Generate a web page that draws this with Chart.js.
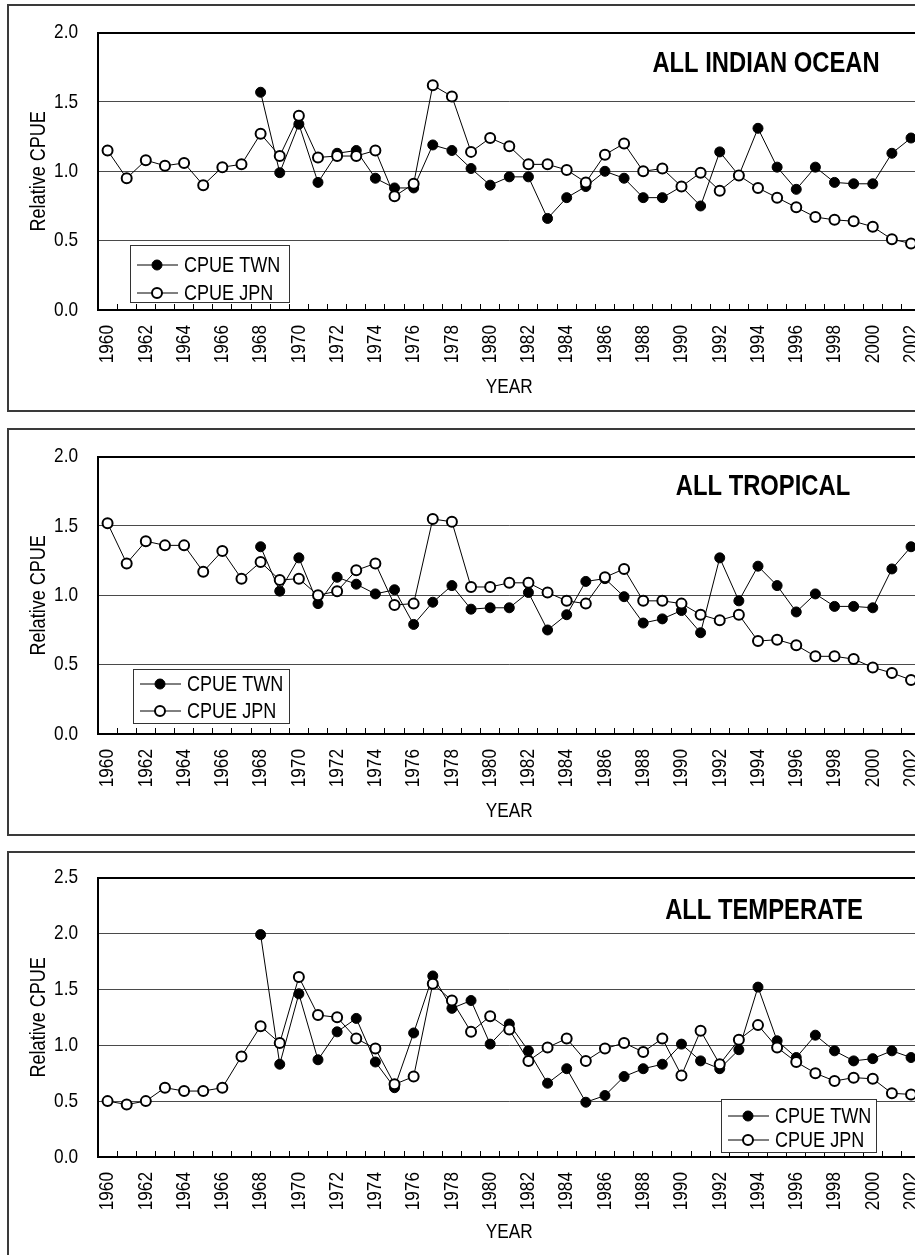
<!DOCTYPE html>
<html>
<head>
<meta charset="utf-8">
<title>Relative CPUE</title>
<script src="https://cdn.jsdelivr.net/npm/chart.js@4.4.1/dist/chart.umd.min.js"></script>
<style>
html, body { margin: 0; padding: 0; background: #fff; overflow: hidden; }
body { width: 915px; height: 1255px; position: relative; }
.frame { position: absolute; left: 7px; width: 960px; border: 2px solid #3a3a3a; box-sizing: border-box; }
canvas { position: absolute; left: 0; }
</style>
</head>
<body>
<div class="frame" style="top:4px;height:408px"></div>
<div class="frame" style="top:428px;height:408px"></div>
<div class="frame" style="top:851px;height:420px"></div>
<canvas id="c1" width="930" height="412" style="top:0px"></canvas>
<canvas id="c2" width="930" height="412" style="top:424px"></canvas>
<canvas id="c3" width="930" height="410" style="top:845px"></canvas>
<script>
// DATOS
const years = [1960, 1961, 1962, 1963, 1964, 1965, 1966, 1967, 1968, 1969,
  1970, 1971, 1972, 1973, 1974, 1975, 1976, 1977, 1978, 1979,
  1980, 1981, 1982, 1983, 1984, 1985, 1986, 1987, 1988, 1989,
  1990, 1991, 1992, 1993, 1994, 1995, 1996, 1997, 1998, 1999,
  2000, 2001, 2002];

const yTicksIndian = [0.0, 0.5, 1.0, 1.5, 2.0];
const yTicksTemperate = [0.0, 0.5, 1.0, 1.5, 2.0, 2.5];

// ALL INDIAN OCEAN
const twnIndian = [null, null, null, null, null, null, null, null,
  1.57, 0.99, 1.34, 0.92, 1.13, 1.15, 0.95, 0.88, 0.88, 1.19,
  1.15, 1.02, 0.90, 0.96, 0.96, 0.66, 0.81, 0.89, 1.00, 0.95,
  0.81, 0.81, 0.89, 0.75, 1.14, 0.97, 1.31, 1.03, 0.87, 1.03,
  0.92, 0.91, 0.91, 1.13, 1.24];
const jpnIndian = [1.15, 0.95, 1.08, 1.04, 1.06, 0.90, 1.03, 1.05, 1.27, 1.11,
  1.40, 1.10, 1.11, 1.11, 1.15, 0.82, 0.91, 1.62, 1.54, 1.14,
  1.24, 1.18, 1.05, 1.05, 1.01, 0.92, 1.12, 1.20, 1.00, 1.02,
  0.89, 0.99, 0.86, 0.97, 0.88, 0.81, 0.74, 0.67, 0.65, 0.64,
  0.60, 0.51, 0.48];

// ALL TROPICAL
const twnTropical = [null, null, null, null, null, null, null, null,
  1.35, 1.03, 1.27, 0.94, 1.13, 1.08, 1.01, 1.04, 0.79, 0.95,
  1.07, 0.90, 0.91, 0.91, 1.02, 0.75, 0.86, 1.10, 1.12, 0.99,
  0.80, 0.83, 0.89, 0.73, 1.27, 0.96, 1.21, 1.07, 0.88, 1.01,
  0.92, 0.92, 0.91, 1.19, 1.35];
const jpnTropical = [1.52, 1.23, 1.39, 1.36, 1.36, 1.17, 1.32, 1.12, 1.24, 1.11,
  1.12, 1.00, 1.03, 1.18, 1.23, 0.93, 0.94, 1.55, 1.53, 1.06,
  1.06, 1.09, 1.09, 1.02, 0.96, 0.94, 1.13, 1.19, 0.96, 0.96,
  0.94, 0.86, 0.82, 0.86, 0.67, 0.68, 0.64, 0.56, 0.56, 0.54,
  0.48, 0.44, 0.39];

// ALL TEMPERATE
const twnTemperate = [null, null, null, null, null, null, null, null,
  1.99, 0.83, 1.46, 0.87, 1.12, 1.24, 0.85, 0.62, 1.11, 1.62,
  1.33, 1.40, 1.01, 1.19, 0.95, 0.66, 0.79, 0.49, 0.55, 0.72,
  0.79, 0.83, 1.01, 0.86, 0.79, 0.96, 1.52, 1.04, 0.89, 1.09,
  0.95, 0.86, 0.88, 0.95, 0.89];
const jpnTemperate = [0.50, 0.47, 0.50, 0.62, 0.59, 0.59, 0.62, 0.90, 1.17, 1.02,
  1.61, 1.27, 1.25, 1.06, 0.97, 0.65, 0.72, 1.55, 1.40, 1.12,
  1.26, 1.14, 0.86, 0.98, 1.06, 0.86, 0.97, 1.02, 0.94, 1.06,
  0.73, 1.13, 0.83, 1.05, 1.18, 0.98, 0.85, 0.75, 0.68, 0.71,
  0.70, 0.57, 0.56];

const fam = "'Liberation Sans', Arial, sans-serif";
Chart.defaults.font.family = fam;
Chart.defaults.font.size = 21;
Chart.defaults.color = '#000';

// No hay Arial Narrow instalada: se comprime el texto en horizontal para imitarla
function narrowContext(id) {
  const ctx = document.getElementById(id).getContext('2d');
  const fill = ctx.fillText;
  ctx.fillText = function (text, x, y, maxWidth) {
    const w = this.measureText(text).width * 0.82;
    return fill.call(this, text, x, y, maxWidth === undefined ? w : Math.min(w, maxWidth));
  };
  return ctx;
}

// Titulo y leyenda dentro del area del grafico
const panelDecor = {
  id: 'panelDecor',
  afterDraw(chart, args, opts) {
    const ctx = chart.ctx;
    const ca = chart.chartArea;
    ctx.save();

    // titulo
    ctx.font = 'bold 29px ' + fam;
    ctx.fillStyle = '#000';
    ctx.textAlign = 'center';
    ctx.textBaseline = 'middle';
    ctx.fillText(opts.title, opts.titleX, ca.top + opts.titleDy);

    // leyenda
    const bx = ca.left + opts.box.dx;
    const by = ca.bottom - opts.box.dy;
    ctx.fillStyle = '#fff';
    ctx.fillRect(bx, by, opts.box.w, opts.box.h);
    ctx.strokeStyle = '#333';
    ctx.lineWidth = 1;
    ctx.strokeRect(bx + 0.5, by + 0.5, opts.box.w, opts.box.h);

    ctx.font = '22px ' + fam;
    ctx.textAlign = 'left';
    chart.data.datasets.forEach((ds, i) => {
      const ry = by + opts.box.rows[i];
      ctx.strokeStyle = '#000';
      ctx.lineWidth = 1;
      ctx.beginPath();
      ctx.moveTo(bx + 7, ry);
      ctx.lineTo(bx + 48, ry);
      ctx.stroke();
      ctx.beginPath();
      ctx.arc(bx + 27, ry, ds.pointRadius, 0, Math.PI * 2);
      ctx.fillStyle = ds.pointBackgroundColor;
      ctx.fill();
      ctx.lineWidth = ds.pointBorderWidth;
      ctx.strokeStyle = ds.pointBorderColor;
      ctx.stroke();
      ctx.fillStyle = '#000';
      ctx.fillText(ds.label, bx + 54, ry + 1);
    });
    ctx.restore();
  }
};

function makeChart(id, twn, jpn, yTicks, o) {
  const yMax = yTicks[yTicks.length - 1];
  return new Chart(narrowContext(id), {
    type: 'line',
    data: {
      labels: years,
      datasets: [{
        label: 'CPUE TWN',
        data: twn,
        borderColor: '#000',
        borderWidth: 1,
        pointRadius: 5,
        pointBackgroundColor: '#000',
        pointBorderColor: '#000',
        pointBorderWidth: 1,
        order: 1
      }, {
        label: 'CPUE JPN',
        data: jpn,
        borderColor: '#000',
        borderWidth: 1,
        pointRadius: 5,
        pointBackgroundColor: '#fff',
        pointBorderColor: '#000',
        pointBorderWidth: 2,
        order: 0
      }]
    },
    options: {
      responsive: false,
      animation: false,
      layout: { padding: { top: o.padTop, right: 9.4, left: 0, bottom: 0 } },
      plugins: {
        legend: { display: false },
        tooltip: { enabled: false },
        panelDecor: o.decor
      },
      scales: {
        x: {
          offset: true,
          grid: { offset: true, drawOnChartArea: false, drawTicks: true, tickLength: -6, color: '#000', lineWidth: 1 },
          border: { color: '#000', width: 2 },
          ticks: {
            autoSkip: false, maxRotation: 90, minRotation: 90, padding: 21,
            callback: (v, i) => i % 2 === 0 ? String(years[i]) : ''
          },
          title: { display: true, text: 'YEAR', padding: { top: 0, bottom: o.yearPad } },
          afterFit: (s) => { s.height = o.xHeight; s.paddingLeft = 0; s.paddingRight = 0; }
        },
        y: {
          min: yTicks[0],
          max: yMax,
          afterBuildTicks: (s) => { s.ticks = yTicks.map(v => ({ value: v })); },
          ticks: { padding: 20, callback: (v) => Number(v).toFixed(1) },
          grid: {
            drawTicks: false,
            color: (c) => c.tick && c.tick.value === yMax ? '#000' : '#4a4a4a',
            lineWidth: (c) => c.tick && c.tick.value === yMax ? 2 : 1
          },
          border: { color: '#000', width: 2 },
          title: { display: true, text: 'Relative CPUE', font: { size: 22 }, padding: { top: 26, bottom: 0 } },
          afterFit: (s) => { s.width = 98; }
        }
      }
    },
    plugins: [panelDecor]
  });
}

makeChart('c1', twnIndian, jpnIndian, yTicksIndian, {
  padTop: 19, xHeight: 102, yearPad: 12,
  decor: { title: 'ALL INDIAN OCEAN', titleX: 766, titleDy: 31, box: { dx: 32, dy: 65, w: 159, h: 57, rows: [20, 48] } }
});
makeChart('c2', twnTropical, jpnTropical, yTicksIndian, {
  padTop: 19, xHeight: 102, yearPad: 12,
  decor: { title: 'ALL TROPICAL', titleX: 763, titleDy: 30, box: { dx: 35, dy: 65, w: 156, h: 54, rows: [15, 42] } }
});
makeChart('c3', twnTemperate, jpnTemperate, yTicksTemperate, {
  padTop: 19, xHeight: 98, yearPad: 10,
  decor: { title: 'ALL TEMPERATE', titleX: 764, titleDy: 33, box: { dx: 623, dy: 58, w: 155, h: 53, rows: [17, 41] } }
});
</script>
</body>
</html>
